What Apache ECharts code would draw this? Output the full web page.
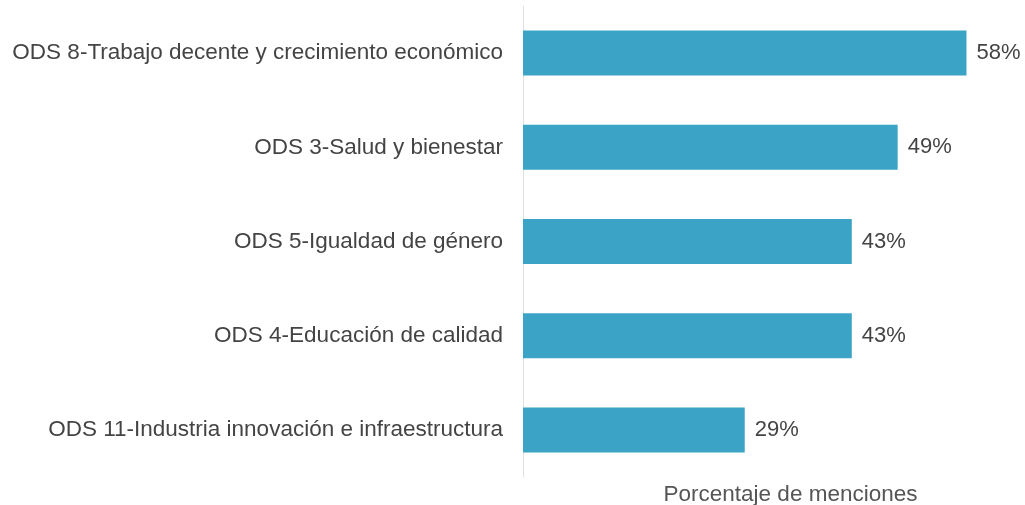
<!DOCTYPE html>
<html>
<head>
<meta charset="utf-8">
<script src="https://cdn.jsdelivr.net/npm/echarts@6/dist/echarts.min.js"></script>
<style>
  html, body { margin: 0; padding: 0; background: #fff; }
  #chart { width: 1025px; height: 505px; }
</style>
</head>
<body>
<div id="chart"></div>
<script>
  // categories, top to bottom
  const categories = [
    'ODS 8-Trabajo decente y crecimiento económico',
    'ODS 3-Salud y bienestar',
    'ODS 5-Igualdad de género',
    'ODS 4-Educación de calidad',
    'ODS 11-Industria innovación e infraestructura'
  ];
  const values = [58, 49, 43, 43, 29];
  const axisTitle = 'Porcentaje de menciones';

  const chart = echarts.init(document.getElementById('chart'));
  const option = {
    animation: false,
    grid: { left: 523, right: 5, top: 6, bottom: 28, outerBoundsMode: 'none' },
    xAxis: {
      type: 'value',
      min: 0,
      max: 65,
      axisLine: { show: false },
      axisTick: { show: false },
      axisLabel: { show: false },
      splitLine: { show: false },
      name: axisTitle,
      nameLocation: 'middle',
      nameGap: 6,
      nameTextStyle: {
        fontFamily: 'Liberation Sans',
        fontSize: 22.5,
        color: '#555',
        padding: [0, 0, 0, 38]
      }
    },
    yAxis: {
      type: 'category',
      data: categories,
      inverse: true,
      axisLine: { show: true, lineStyle: { color: '#e0e0e0', width: 1 } },
      axisTick: { show: false },
      axisLabel: {
        margin: 20,
        fontFamily: 'Liberation Sans',
        fontSize: 22.5,
        color: '#444'
      }
    },
    series: [{
      type: 'bar',
      data: values,
      barWidth: 45,
      itemStyle: { color: '#3ba3c6' },
      label: {
        show: true,
        position: 'right',
        distance: 10,
        formatter: '{c}%',
        fontFamily: 'Liberation Sans',
        fontSize: 22,
        color: '#444'
      }
    }]
  };
  chart.setOption(option);
</script>
</body>
</html>
